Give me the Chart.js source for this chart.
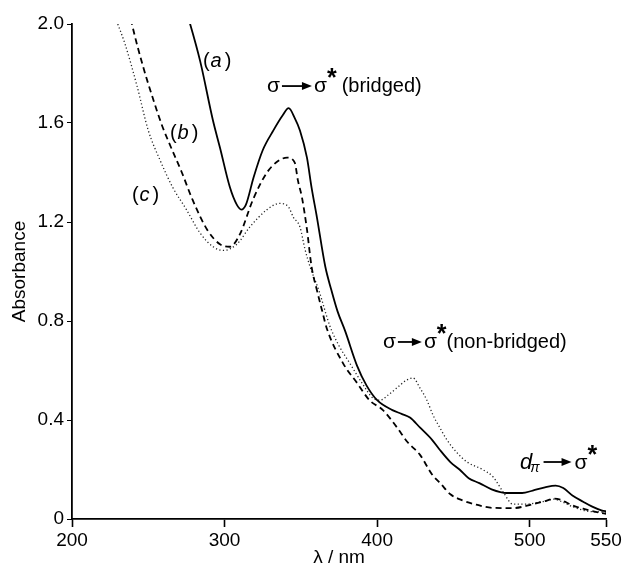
<!DOCTYPE html>
<html><head><meta charset="utf-8">
<script src="https://cdn.jsdelivr.net/npm/chart.js@4/dist/chart.umd.min.js"></script>
<style>html,body{margin:0;padding:0;background:#fff}canvas{display:block}</style>
</head><body>
<canvas id="c" width="625" height="573"></canvas>
<script>
// ---- data ----
const wavelengthA = [270,276,284,292.4,297,303.5,308,311,314,319,325,332,338,342,346,349.4,354,357,360.5,366,370,374,379,386.8,393,400,410,416,421.5,428,436,441,448,454,460,467,475,485,495,502,510,517,522,528,535,541,547,551];
const absorbanceA = [2.15,2.03,1.85,1.61,1.50,1.34,1.27,1.25,1.27,1.38,1.49,1.57,1.63,1.66,1.62,1.57,1.46,1.34,1.22,1.02,0.925,0.84,0.76,0.62,0.54,0.48,0.44,0.425,0.41,0.37,0.32,0.28,0.23,0.20,0.165,0.145,0.12,0.105,0.105,0.115,0.128,0.135,0.125,0.095,0.07,0.05,0.035,0.03];

const wavelengthB = [236,239.3,246.5,253,259,265,272,279,288.5,297,303.5,310,318.6,327.8,336,341,346,348,350.7,354,357,360.5,364,367,377.6,386.8,395,403.8,413,420,428,436,442,448,456,465,476,489,502,510,516,520,528,536,544,551];
const absorbanceB = [2.1,2.0,1.83,1.70,1.59,1.50,1.40,1.29,1.17,1.11,1.10,1.15,1.29,1.40,1.45,1.46,1.44,1.37,1.30,1.17,1.02,0.925,0.84,0.77,0.63,0.55,0.48,0.44,0.37,0.31,0.26,0.18,0.14,0.10,0.075,0.058,0.045,0.044,0.06,0.072,0.082,0.078,0.055,0.04,0.028,0.02];

const wavelengthC = [230,234.7,242.6,250,257.7,266,275,284,292.5,299,308,316.6,327.8,336,342,345,349.4,352.7,356,362,369,375,382,390,397,402,407,413,419,423.5,428,432.6,436.6,441,445.7,452,459,469,476,482.5,489,498,508,516,521,528,540,551];
const absorbanceC = [2.0,1.92,1.75,1.57,1.45,1.34,1.25,1.155,1.10,1.085,1.11,1.18,1.25,1.275,1.26,1.22,1.18,1.09,1.02,0.92,0.78,0.70,0.63,0.55,0.49,0.48,0.50,0.53,0.56,0.57,0.53,0.48,0.42,0.37,0.32,0.27,0.23,0.20,0.17,0.11,0.06,0.06,0.07,0.08,0.07,0.05,0.03,0.028];

const xTickValues = [200,300,400,500,550];
const yTickValues = [0,0.4,0.8,1.2,1.6,2.0];
const seriesLabels = ['(a)','(b)','(c)'];

const FONT = "'Liberation Sans', Arial, Helvetica, sans-serif";
const toPoints = (xs, ys) => xs.map((x, i) => ({x, y: ys[i]}));

// ---- annotation text plugin ----
function drawArrow(ctx, x0, x1, y) {
  ctx.save();
  ctx.strokeStyle = '#000'; ctx.fillStyle = '#000'; ctx.lineWidth = 1.8;
  ctx.beginPath(); ctx.moveTo(x0, y); ctx.lineTo(x1 - 6, y); ctx.stroke();
  ctx.beginPath(); ctx.moveTo(x1, y); ctx.lineTo(x1 - 10, y - 4); ctx.lineTo(x1 - 10, y + 4); ctx.closePath(); ctx.fill();
  ctx.restore();
}
function sigmaLabel(ctx, x, y, arrowLen, tail, tailGap) {
  ctx.font = '21px ' + FONT;
  ctx.fillText('σ', x, y);
  let cx = x + ctx.measureText('σ').width + 2;
  drawArrow(ctx, cx, cx + arrowLen, y - 6);
  cx += arrowLen + 2;
  ctx.font = '21px ' + FONT;
  ctx.fillText('σ', cx, y);
  cx += ctx.measureText('σ').width;
  ctx.font = 'bold 25px ' + FONT;
  ctx.fillText('*', cx, y - 6);
  cx += ctx.measureText('*').width + tailGap;
  if (tail) {
    ctx.font = '20px ' + FONT;
    ctx.fillText(tail, cx, y);
  }
}
function seriesTag(ctx, x, y, letter) {
  ctx.font = '20px ' + FONT;
  ctx.fillText('(', x, y);
  let cx = x + ctx.measureText('(').width + 1;
  ctx.font = 'italic 20px ' + FONT;
  ctx.fillText(letter, cx, y);
  cx += ctx.measureText(letter).width + 3;
  ctx.font = '20px ' + FONT;
  ctx.fillText(')', cx, y);
}
const annotations = {
  id: 'annotations',
  afterDraw(chart) {
    const {ctx, scales: {x, y}} = chart;
    const P = (wx, ay) => [x.getPixelForValue(wx), y.getPixelForValue(ay)];
    ctx.save();
    ctx.fillStyle = '#000';
    ctx.textAlign = 'left';
    ctx.textBaseline = 'alphabetic';
    let p;
    p = P(285.8, 1.826); seriesTag(ctx, p[0], p[1], 'a');
    p = P(264.2, 1.535); seriesTag(ctx, p[0], p[1], 'b');
    p = P(239.3, 1.285); seriesTag(ctx, p[0], p[1], 'c');
    p = P(327.8, 1.725); sigmaLabel(ctx, p[0], p[1], 30, '(bridged)', 5);
    p = P(403.8, 0.691); sigmaLabel(ctx, p[0], p[1], 24, '(non-bridged)', 0);
    // d_pi -> sigma*
    p = P(493.6, 0.202);
    ctx.font = 'italic 22px ' + FONT;
    ctx.fillText('d', p[0], p[1]);
    let cx = p[0] + ctx.measureText('d').width - 2;
    ctx.font = 'italic 14px ' + FONT;
    ctx.fillText('π', cx, p[1] + 3);
    cx += ctx.measureText('π').width + 4;
    drawArrow(ctx, cx, cx + 28, p[1] - 7);
    cx += 31;
    ctx.font = '21px ' + FONT;
    ctx.fillText('σ', cx, p[1]);
    cx += ctx.measureText('σ').width;
    ctx.font = 'bold 25px ' + FONT;
    ctx.fillText('*', cx, p[1] - 6);
    ctx.restore();
  }
};

new Chart(document.getElementById('c'), {
  type: 'line',
  data: {
    datasets: [
      { label: seriesLabels[0], data: toPoints(wavelengthA, absorbanceA), borderColor: '#000', borderWidth: 1.8 },
      { label: seriesLabels[1], data: toPoints(wavelengthB, absorbanceB), borderColor: '#000', borderWidth: 1.8, borderDash: [6, 4] },
      { label: seriesLabels[2], data: toPoints(wavelengthC, absorbanceC), borderColor: '#222', borderWidth: 1.3, borderDash: [1.2, 2.4] }
    ]
  },
  options: {
    responsive: false,
    devicePixelRatio: 1,
    animation: false,
    events: [],
    elements: { point: { radius: 0 }, line: { cubicInterpolationMode: 'monotone', fill: false } },
    layout: { padding: { left: 0, right: 19, top: 24, bottom: 0 } },
    plugins: { legend: { display: false }, tooltip: { enabled: false } },
    scales: {
      x: {
        type: 'linear', min: 200, max: 550,
        afterBuildTicks: s => { s.ticks = xTickValues.map(v => ({value: v})); },
        afterFit: s => { s.height = 54; },
        grid: { drawOnChartArea: false, drawTicks: true, tickLength: 8, color: '#000', tickWidth: 1.6 },
        border: { display: true, color: '#000', width: 1.8 },
        ticks: { color: '#000', font: { family: FONT, size: 19 }, padding: 2, maxRotation: 0, autoSkip: false },
        title: { display: true, text: 'λ / nm', color: '#000', font: { family: FONT, size: 19 }, padding: { top: 0, bottom: 4 } }
      },
      y: {
        type: 'linear', min: 0, max: 2.0,
        afterBuildTicks: s => { s.ticks = yTickValues.map(v => ({value: v})); },
        afterFit: s => { s.width = 72; },
        grid: { drawOnChartArea: false, drawTicks: true, tickLength: 5, color: '#000', tickWidth: 1 },
        border: { display: true, color: '#000', width: 1.8 },
        ticks: { color: '#000', font: { family: FONT, size: 19 }, padding: 3, callback: v => v === 0 ? '0' : v.toFixed(1) },
        title: { display: true, text: 'Absorbance', color: '#000', font: { family: FONT, size: 19 }, padding: { top: 8, bottom: 0 } }
      }
    }
  },
  plugins: [annotations]
});
</script>
</body></html>
